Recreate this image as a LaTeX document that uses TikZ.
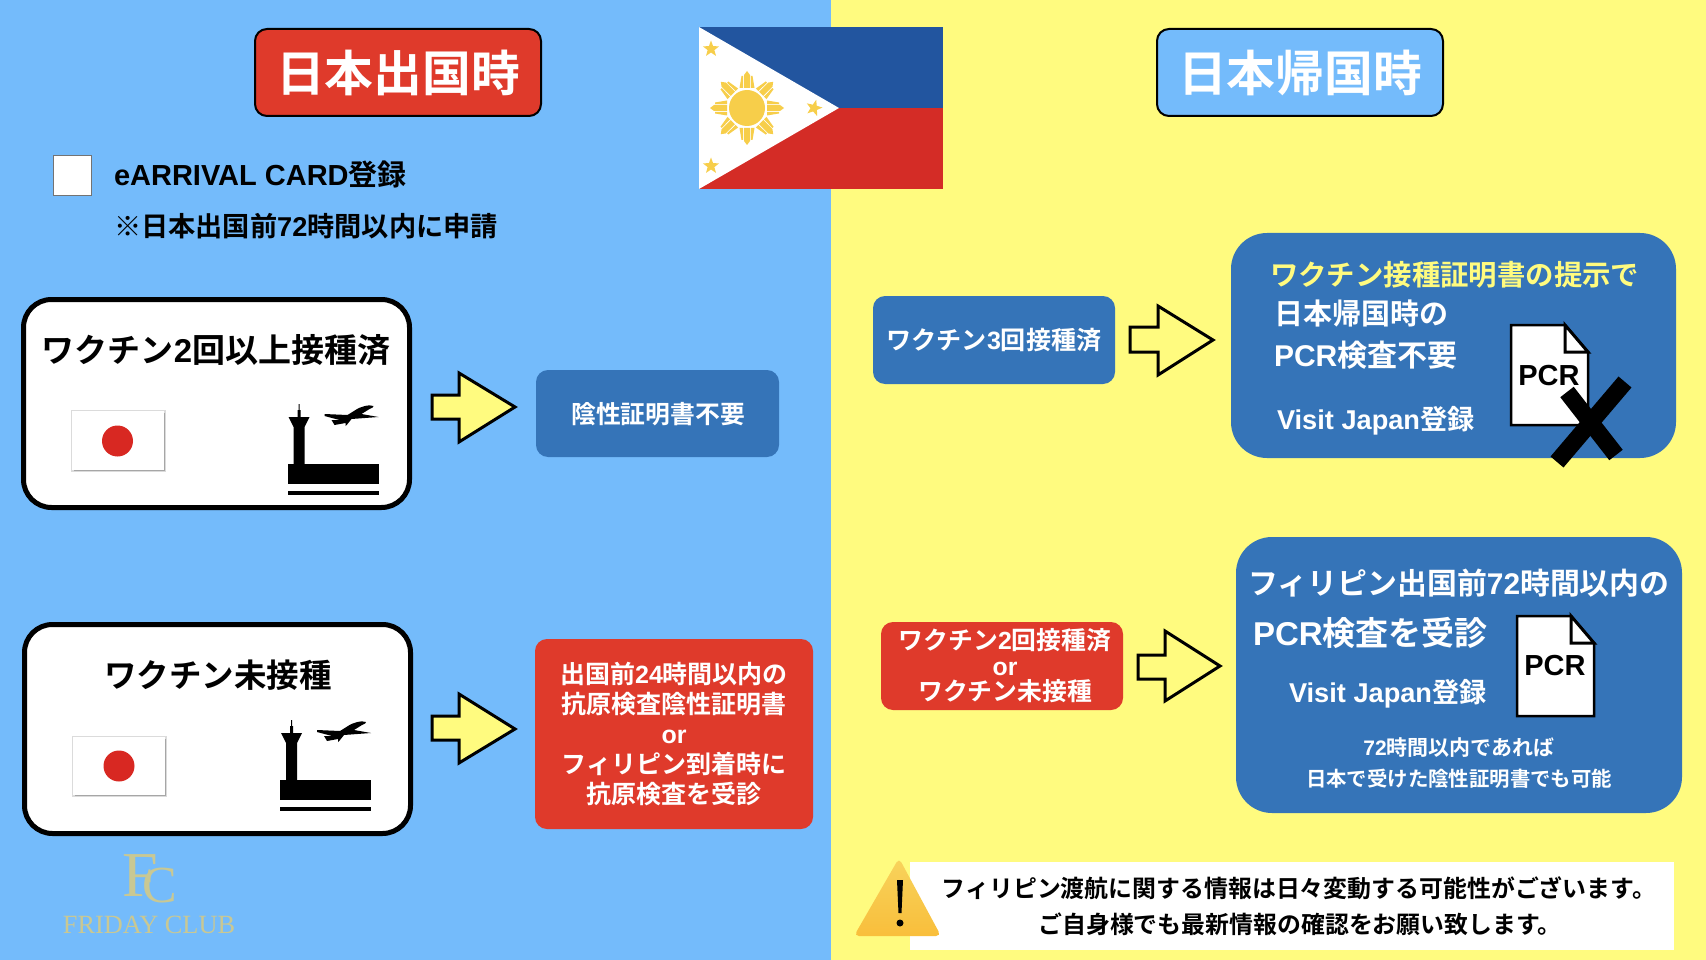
\documentclass[tikz,border=0pt]{standalone}
\usepackage{fontspec}
\setmainfont{Noto Sans CJK JP}[UprightFont=* Bold,BoldFont=* Bold]
\newfontfamily\lat{Liberation Sans}[UprightFont=* Bold]
\newfontfamily\logofont{Liberation Serif}
\usetikzlibrary{shapes.geometric}
\definecolor{bgblue}{HTML}{74BBFB}
\definecolor{bgyellow}{HTML}{FFFB7F}
\definecolor{boxblue}{HTML}{3574B8}
\definecolor{boxred}{HTML}{DF3A2B}
\definecolor{flagblue}{HTML}{22559F}
\definecolor{flagred}{HTML}{D42C26}
\definecolor{sun}{HTML}{F7CE4A}
\definecolor{gold}{HTML}{C9C893}
\newcommand{\fs}[1]{\fontsize{#1}{#1}\selectfont}
\newcommand{\fsl}[2]{\fontsize{#1}{#2}\selectfont}
\tikzset{
  x=1pt,y=-1pt,
  txt/.style={inner sep=0pt,outer sep=0pt,text=#1},
  txt/.default=white,
  titlebox/.style={draw=black,line width=2pt,rounded corners=12pt},
  card/.style={draw=black,line width=5pt,fill=white,rounded corners=28pt},
  sbox/.style={fill=#1,rounded corners=12pt},
  bigbox/.style={fill=boxblue,rounded corners=36pt},
  blockarrow/.style={draw=black,line width=3pt,fill=bgyellow,miter limit=10},
  pics/airport/.style={code={
    \fill[black] (0,0) rectangle (91,20);
    \fill[black] (0,27) rectangle (91,31);
    \fill[black] (6,0) -- (6,-37) -- (1,-47) -- (22,-47) -- (17,-37) -- (17,0) -- cycle;
    \fill[black] (10,-47) -- (10,-54) -- (11,-54) -- (11,-60) -- (12,-60) -- (12,-54) -- (13,-54) -- (13,-47) -- cycle;
    \fill[black] (86,-58) .. controls (82,-60) and (72,-57) .. (68,-54) -- (60,-49) -- (37,-50) -- (37,-48) -- (52,-44) -- (44,-44) -- (47,-39) -- (58,-41) -- (58,-38) -- (60,-40) -- (64,-45) -- (91,-47) -- (74,-50) -- (82,-55) .. controls (85,-56) and (86,-57) .. (86,-58) -- cycle;
  }},
  pics/pcrdoc/.style={code={
    \draw[black,line width=2.5pt,fill=white,line join=miter] (0,0) -- (54,0) -- (77,27) -- (77,100) -- (0,100) -- cycle;
    \draw[black,line width=3pt,fill=white] (54,0) -- (54,27) -- (77,27) -- cycle;
  }},
}
\begin{document}
\begin{tikzpicture}
\useasboundingbox (0,0) rectangle (1706,960);
\fill[bgblue] (0,0) rectangle (831,960);
\fill[bgyellow] (831,0) rectangle (1706,960);

% titles
\fill[boxred,titlebox] (255,29) rectangle (541,116);
\node[txt,font=\fs{48.8}] (titleL) at (398,73) {日本出国時};
\fill[bgblue,titlebox] (1157,29) rectangle (1443,116);
\node[txt,font=\fs{48.8}] (titleR) at (1300,73) {日本帰国時};

% Philippine flag
\fill[flagblue] (699,27) rectangle (943,108);
\fill[flagred] (699,108) rectangle (943,189);
\fill[white] (699,27) -- (839,108) -- (699,189) -- cycle;
\fill[sun] (747,108) circle (18);
\foreach \a in {0,45,...,315}{
  \begin{scope}[shift={(747,108)},rotate=\a]
    \fill[sun] (20,-3) -- (33,-3) -- (37,0) -- (33,3) -- (20,3) -- cycle;
    \fill[sun] (20,-7.5) -- (32,-5.5) -- (32,-3.8) -- (20,-4) -- cycle;
    \fill[sun] (20,7.5) -- (32,5.5) -- (32,3.8) -- (20,4) -- cycle;
  \end{scope}
}
\foreach \n/\p/\r in {s1/{(711,49)}/0,s2/{(814,108)}/-15,s3/{(711,166)}/0}{
  \node[star,star points=5,star point ratio=2.4,fill=sun,inner sep=0pt,minimum size=17pt,rotate=\r] (\n) at \p {};
}

% checkbox and note
\fill[white,draw=black!55,line width=.8pt] (53,155) rectangle (91,195);
\node[txt=black,anchor=west,font=\fs{29}] (earr) at (114,174) {{\lat eARRIVAL CARD}登録};
\node[txt=black,anchor=west,font=\fs{27.2}] (earr2) at (114,226) {※日本出国前{\lat 72}時間以内に申請};

% card 1
\filldraw[card] (23.5,299.5) rectangle (409.5,507.5);
\node[txt=black,font=\fs{33}] (c1) at (216,350) {ワクチン{\lat 2}回以上接種済};
\fill[black!14] (71,410) rectangle (165.5,472);
\fill[black!35] (74,413) rectangle (165,471);
\fill[white] (72,411) rectangle (164,470);
\fill[flagred!90!red] (117.5,441) circle (15.5);
\pic at (287.5,464) {airport};

% arrow 1
\draw[blockarrow] (432,395) -- (459,395) -- (459,373) -- (515,407) -- (459,442) -- (459,419) -- (432,419) -- cycle;
\fill[sbox=boxblue] (536,370) rectangle (779,457);
\node[txt,font=\fs{24.8}] (b1) at (658,414) {陰性証明書不要};

% card 2
\filldraw[card] (24.5,624.5) rectangle (410.5,833.5);
\node[txt=black,font=\fs{32.5}] (c2) at (218,675) {ワクチン未接種};
\fill[black!14] (72,736) rectangle (166.5,797);
\fill[black!35] (75,739) rectangle (166,796);
\fill[white] (73,737) rectangle (165,795);
\fill[flagred!90!red] (119,766) circle (15.5);
\pic at (280,780) {airport};

% arrow 2
\draw[blockarrow] (432,716) -- (459,716) -- (459,694) -- (515,729) -- (459,763) -- (459,740) -- (432,740) -- cycle;
\fill[sbox=boxred] (535,639) rectangle (813,829);
\node[txt,align=center,font=\fsl{25}{30}] (b2) at (674,734) {出国前{\lat 24}時間以内の\\抗原検査陰性証明書\\{\lat or}\\フィリピン到着時に\\抗原検査を受診};

% logo
\node[txt=gold,anchor=base,font=\logofont\fs{64}] (logoFC) at (149.8,896) {F\kern-15.2pt\raisebox{-6pt}{\fs{52}C}};
\node[txt=gold,font=\logofont\fs{26.3}] (logoT) at (149,925) {FRIDAY CLUB};

% right column row 1
\fill[sbox=boxblue] (873,296) rectangle (1115,384);
\node[txt,font=\fs{25.1}] (r1) at (994,340) {ワクチン{\lat 3}回接種済};
\draw[blockarrow] (1130,327) -- (1158,327) -- (1158,306) -- (1213,340) -- (1158,375) -- (1158,352) -- (1130,352) -- cycle;
\fill[bigbox] (1231,233) rectangle (1676,458);
\node[txt=bgyellow,anchor=west,font=\fs{28.4}] (t1) at (1270,275) {ワクチン接種証明書の提示で};
\node[txt,anchor=west,font=\fs{29}] (t2) at (1274,313) {日本帰国時の};
\node[txt,anchor=west,font=\fs{30}] (t3) at (1274,355) {{\lat PCR}検査不要};
\node[txt,anchor=west,font=\fs{27.2}] (t4) at (1277,421) {{\lat Visit Japan}登録};
\pic at (1511,325) {pcrdoc};
\node[txt=black,font=\lat\fs{29}] (pcr1) at (1549,376) {PCR};
\draw[black,line width=17pt] (1557,462) -- (1625,382);
\draw[black,line width=17pt] (1567,392) -- (1616,455);

% right column row 2
\fill[sbox=boxred] (881,622) rectangle (1123,710);
\node[txt,align=center,font=\fsl{24.8}{25.5}] (r2) at (1005,666) {ワクチン{\lat 2}回接種済\\{\lat or}\\ワクチン未接種};
\draw[blockarrow] (1138,655) -- (1165,655) -- (1165,631) -- (1220,666) -- (1165,701) -- (1165,679) -- (1138,679) -- cycle;
\fill[bigbox] (1236,537) rectangle (1682,813);
\node[txt,font=\fs{29.9}] (u1) at (1459,583) {フィリピン出国前{\lat 72}時間以内の};
\node[txt,anchor=west,font=\fs{33}] (u2) at (1253,633) {{\lat PCR}検査を受診};
\node[txt,anchor=west,font=\fs{27.2}] (u3) at (1289,694) {{\lat Visit Japan}登録};
\pic at (1517,616) {pcrdoc};
\node[txt=black,font=\lat\fs{29}] (pcr2) at (1555,666) {PCR};
\node[txt,font=\fs{21}] (u4) at (1459,748) {{\lat 72}時間以内であれば};
\node[txt,font=\fs{20.4}] (u5) at (1459,779) {日本で受けた陰性証明書でも可能};

% warning
\fill[white] (910,862) rectangle (1674,950);
\shade[top color=sun!90!white,bottom color=sun!80!orange,rounded corners=5pt] (899,858) -- (941,936) -- (854,936) -- cycle;
\fill[black] (897,880) -- (903,880) -- (901.5,913) -- (898.5,913) -- cycle;
\fill[black] (900,923) circle (3.5);
\node[txt=black,font=\fs{23.9}] (w1) at (1299,888) {フィリピン渡航に関する情報は日々変動する可能性がございます。};
\node[txt=black,font=\fs{23.9}] (w2) at (1300,924) {ご自身様でも最新情報の確認をお願い致します。};
\end{tikzpicture}
\end{document}
